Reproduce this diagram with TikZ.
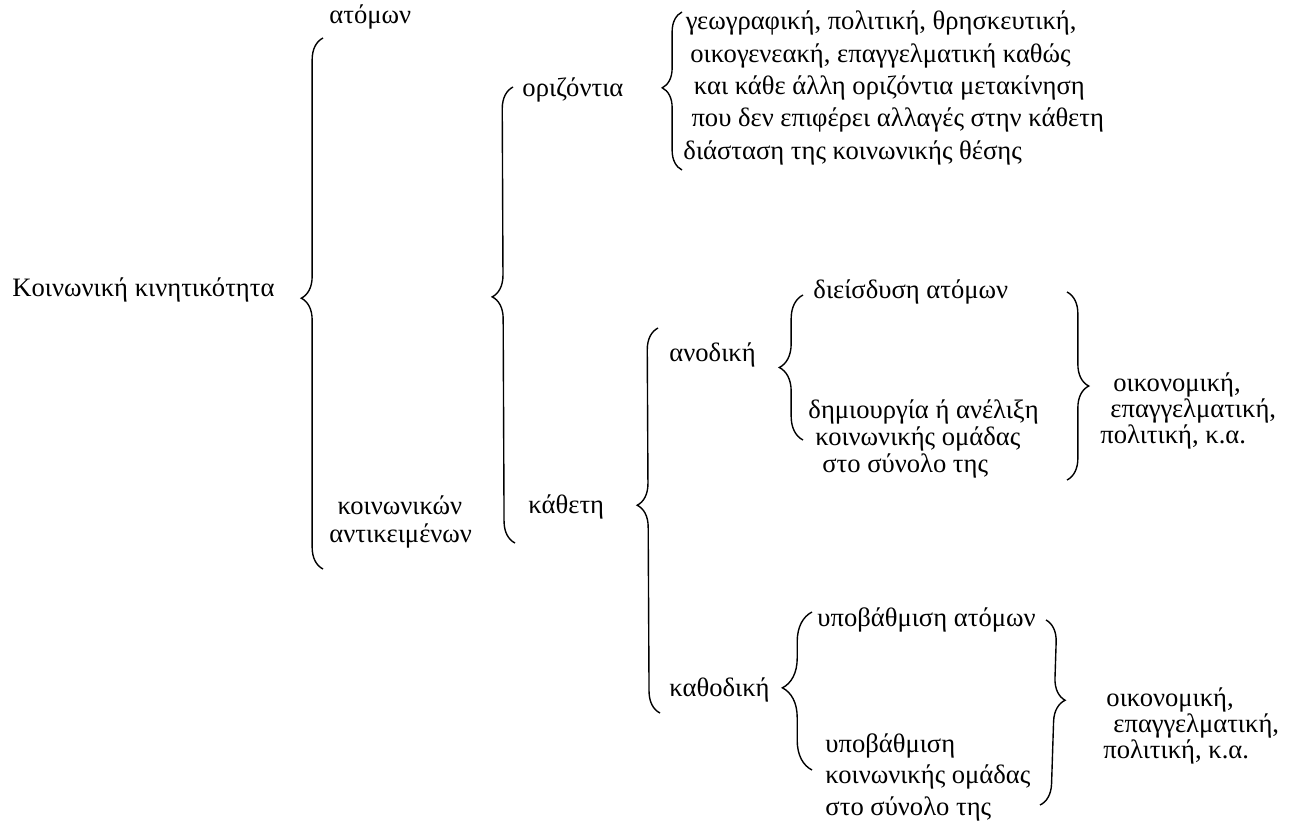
\documentclass[tikz,border=0pt]{standalone}
\usepackage{fontspec}
\setmainfont{Liberation Serif}
\usetikzlibrary{decorations.pathreplacing}

\tikzset{
  brc/.style={decorate, decoration={brace, amplitude=0.33cm, aspect=#1}, line width=0.6pt},
  brc/.default=0.5,
  lbl/.style={anchor=west, inner sep=0pt, align=left},
}

\begin{document}
\begin{tikzpicture}[x=0.0152cm, y=-0.0152cm, font=\fontsize{11.5pt}{14pt}\selectfont]
  \useasboundingbox (0,0) rectangle (1298,825);

  % first level
  \node[lbl] (kin) at (12,290) {Κοινωνική κινητικότητα};
  \node[lbl] (atom) at (329,17) {ατόμων};
  \node[lbl, font=\fontsize{11.5pt}{12.5pt}\selectfont] (obj) at (329,522)
    {\hspace*{3.5pt}κοινωνικών\\αντικειμένων};
  \coordinate (b1t) at (323,38);
  \coordinate (b1b) at (323,569);
  \draw[brc=0.51] (b1b) -- (b1t);

  % horizontal / vertical
  \node[lbl] (hor) at (522,90) {οριζόντια};
  \node[lbl] (ver) at (528,507) {κάθετη};
  \coordinate (b2t) at (513,87);
  \coordinate (b2b) at (515,543);
  \draw[brc=0.54] (b2b) -- (b2t);

  \node[lbl] (kinds) at (683,88)
    {\hspace*{1pt}γεωγραφική, πολιτική, θρησκευτική,\\
     \hspace*{3pt}οικογενεακή, επαγγελματική καθώς\\
     \hspace*{4.5pt}και κάθε άλλη οριζόντια μετακίνηση\\
     \hspace*{3.5pt}που δεν επιφέρει αλλαγές στην κάθετη\\
     διάσταση της κοινωνικής θέσης};
  \coordinate (b3t) at (682,12);
  \coordinate (b3b) at (682,170);
  \draw[brc=0.52, decoration={amplitude=0.3cm}] (b3b) -- (b3t);

  % vertical: up and down
  \node[lbl] (up) at (669,355) {ανοδική};
  \node[lbl] (down) at (669,690) {καθοδική};
  \coordinate (b4t) at (658,328);
  \coordinate (b4b) at (660,713);
  \draw[brc=0.54] (b4b) -- (b4t);

  % upward
  \node[lbl] (upa) at (813,292) {διείσδυση ατόμων};
  \node[lbl, font=\fontsize{11.5pt}{11.6pt}\selectfont] (upb) at (808,439)
    {δημιουργία ή ανέλιξη\\
     \hspace*{3pt}κοινωνικής ομάδας\\
     \hspace*{6pt}στο σύνολο της};
  \coordinate (b5t) at (803,295);
  \coordinate (b5b) at (803,440);
  \draw[brc=0.5, decoration={amplitude=0.36cm}] (b5b) -- (b5t);
  \node[lbl, font=\fontsize{11.5pt}{11.2pt}\selectfont] (upf) at (1100,411)
    {\hspace*{5.6pt}οικονομική,\\
     \hspace*{4.3pt}επαγγελματική,\\
     πολιτική, κ.α.};
  \coordinate (b6t) at (1067,292);
  \coordinate (b6b) at (1067,480);
  \draw[brc=0.5] (b6t) -- (b6b);

  % downward
  \node[lbl] (dna) at (817,620) {υποβάθμιση ατόμων};
  \node[lbl, font=\fontsize{11.5pt}{13.6pt}\selectfont] (dnb) at (825,777)
    {υποβάθμιση\\
     κοινωνικής ομάδας\\
     στο σύνολο της};
  \coordinate (b7t) at (812,612);
  \coordinate (b7b) at (812,770);
  \draw[brc=0.52, decoration={amplitude=0.45cm}] (b7b) -- (b7t);
  \node[lbl, font=\fontsize{11.5pt}{11.2pt}\selectfont] (dnf) at (1103,726)
    {\hspace*{1.3pt}οικονομική,\\
     \hspace*{4.3pt}επαγγελματική,\\
     πολιτική, κ.α.};
  \coordinate (b8t) at (1046,620);
  \coordinate (b8b) at (1040,805);
  \draw[brc=0.43] (b8t) -- (b8b);
\end{tikzpicture}
\end{document}
